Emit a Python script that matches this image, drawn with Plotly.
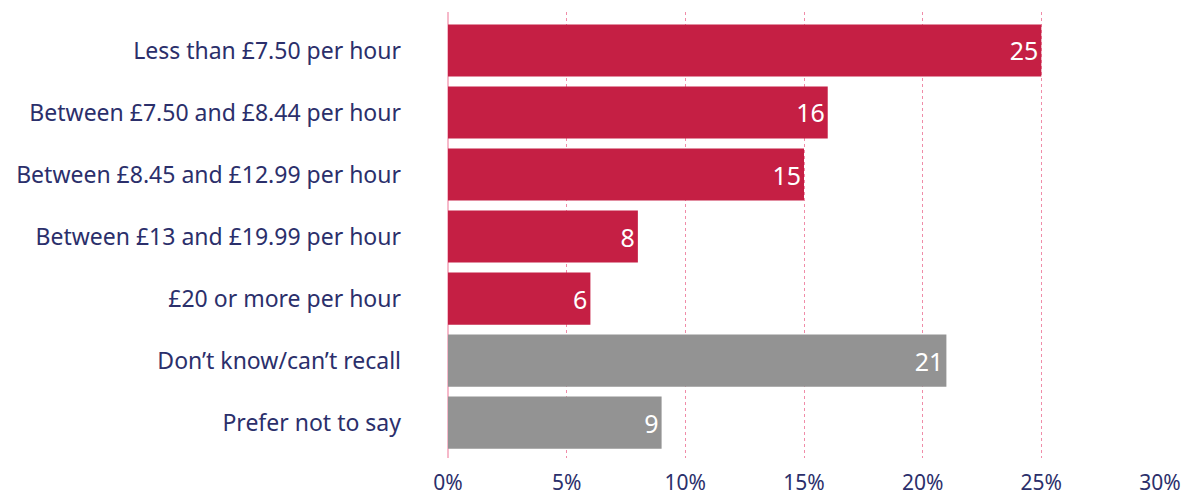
import plotly.graph_objects as go

categories = [
    "Less than £7.50 per hour",
    "Between £7.50 and £8.44 per hour",
    "Between £8.45 and £12.99 per hour",
    "Between £13 and £19.99 per hour",
    "£20 or more per hour",
    "Don’t know/can’t recall",
    "Prefer not to say",
]
values = [25, 16, 15, 8, 6, 21, 9]
bar_colors = ["#C51F44"] * 5 + ["#939393"] * 2
x_ticks = [0, 5, 10, 15, 20, 25, 30]
x_tick_labels = ["0%", "5%", "10%", "15%", "20%", "25%", "30%"]

NAVY = "#2B2F6B"
FONT = "Noto Sans"

fig = go.Figure(
    go.Bar(
        y=categories,
        x=values,
        orientation="h",
        marker=dict(color=bar_colors, line=dict(width=0)),
        text=[str(v) for v in values],
        textposition="inside",
        insidetextanchor="end",
        textfont=dict(color="white", size=25, family=FONT),
        hoverinfo="skip",
    )
)

# page body has an 8px margin; compensate so the plot lands where the reference has it
fig.update_layout(
    width=1181,
    height=487,
    margin=dict(l=440, r=29, t=4, b=37),
    paper_bgcolor="white",
    plot_bgcolor="white",
    bargap=0.16,
    showlegend=False,
    font=dict(family=FONT, color=NAVY),
)

fig.update_xaxes(
    range=[0, 30],
    tickvals=x_ticks,
    ticktext=x_tick_labels,
    tickfont=dict(size=21, color=NAVY, family=FONT),
    showgrid=True,
    gridcolor="#F08CA8",
    griddash="dot",
    gridwidth=1,
    zeroline=True,
    zerolinecolor="#F6B9CA",
    zerolinewidth=2,
    showline=False,
    ticks="",
    ticklabelstandoff=10,
    automargin=False,
)

fig.update_yaxes(
    categoryorder="array",
    categoryarray=categories,
    range=[6.57, -0.62],
    tickfont=dict(size=23, color=NAVY, family=FONT),
    showgrid=False,
    zeroline=False,
    showline=False,
    ticks="",
    ticklabelstandoff=46,
    automargin=False,
)

fig.write_html("out.html")
